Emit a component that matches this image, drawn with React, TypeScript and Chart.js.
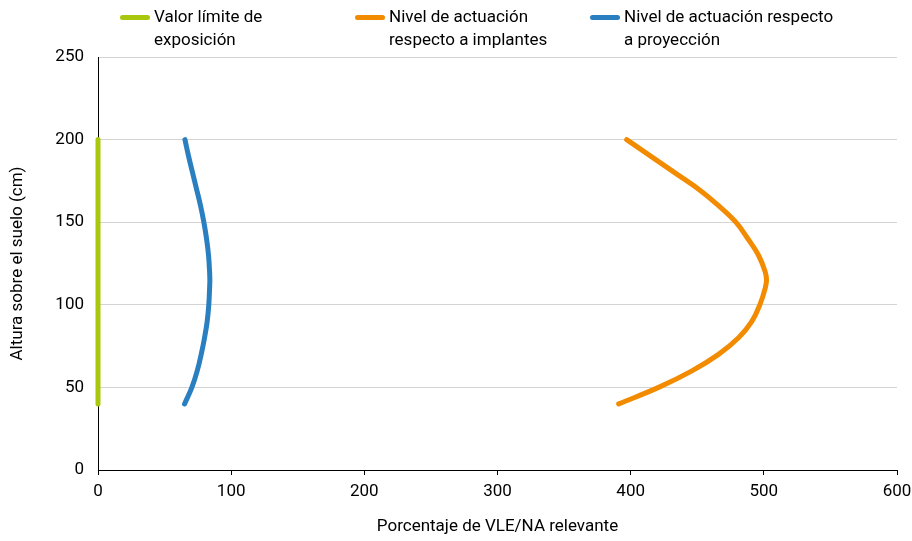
import React, { useEffect, useRef } from "react";
import { Chart, registerables } from "chart.js";

Chart.register(...registerables);

const seriesNames = [
  ["Valor límite de", "exposición"],
  ["Nivel de actuación", "respecto a implantes"],
  ["Nivel de actuación respecto", "a proyección"],
];
const seriesColors = ["#a9c70d", "#f28b00", "#2a7fc1"];

const limitHeights = [40, 200];
const limitValues = [0, 0];

const heights = [40, 50, 60, 70, 80, 90, 100, 110, 115, 120, 130, 140, 150, 160, 170, 180, 190, 200];
const implantValues = [391, 421, 446, 466, 481, 491, 497, 501, 502, 501, 496, 488, 479, 466, 451, 433, 415, 397];
const projectionValues = [65, 70.5, 74.5, 77.5, 80, 82, 83.2, 83.8, 84, 83.8, 83, 81.5, 79.5, 77, 74, 71, 68, 65.3];

const xTitle = "Porcentaje de VLE/NA relevante";
const yTitle = "Altura sobre el suelo (cm)";

const FONT = "Roboto, 'Noto Sans', sans-serif";

export default function App() {
  const ref = useRef<HTMLCanvasElement>(null);
  useEffect(() => {
    const ctx = ref.current!;
    const mk = (vals: number[], hs: number[]) => vals.map((v, i) => ({ x: v, y: hs[i] }));
    const chart = new Chart(ctx, {
      type: "scatter",
      data: {
        datasets: [
          { label: seriesNames[0].join(" "), data: mk(limitValues, limitHeights), borderColor: seriesColors[0], backgroundColor: seriesColors[0] },
          { label: seriesNames[1].join(" "), data: mk(implantValues, heights), borderColor: seriesColors[1], backgroundColor: seriesColors[1] },
          { label: seriesNames[2].join(" "), data: mk(projectionValues, heights), borderColor: seriesColors[2], backgroundColor: seriesColors[2] },
        ].map((d) => ({
          ...d,
          showLine: true,
          borderWidth: 5,
          pointRadius: 0,
          pointHoverRadius: 0,
          tension: 0.4,
          borderCapStyle: "round" as const,
          borderJoinStyle: "round" as const,
          clip: false as any,
        })),
      },
      options: {
        animation: false,
        responsive: false,
        maintainAspectRatio: false,
        layout: { padding: { top: 57, right: 0, left: 8, bottom: 4 } },
        plugins: { legend: { display: false }, tooltip: { enabled: false } },
        scales: {
          x: {
            type: "linear",
            min: 0,
            max: 600,
            ticks: { stepSize: 100, color: "#000", font: { family: FONT, size: 17 }, padding: 7 },
            grid: { drawOnChartArea: false, drawTicks: true, tickLength: 5, color: "#000" },
            border: { display: true, color: "#000", width: 1 },
            title: { display: true, text: xTitle, color: "#000", font: { family: FONT, size: 17 }, padding: { top: 12, bottom: 0 } },
            afterFit: (s: any) => { s.height = 67; s.paddingRight = 15; s.paddingLeft = 0; },
          },
          y: {
            type: "linear",
            min: 0,
            max: 250,
            ticks: { stepSize: 50, color: "#000", font: { family: FONT, size: 17 }, padding: 14 },
            grid: { drawTicks: false, color: "#d4d4d4", lineWidth: 1 },
            border: { display: true, color: "#000", width: 1 },
            title: { display: true, text: yTitle, color: "#000", font: { family: FONT, size: 17 }, padding: { top: 0, bottom: 8 } },
            afterFit: (s: any) => { s.width = 90; },
          },
        },
      },
    });
    return () => chart.destroy();
  }, []);

  const legendX = [120, 355, 590];
  return (
    <div style={{ position: "fixed", left: 0, top: 0, width: 912, height: 541, background: "#fff", fontFamily: FONT }}>
      <canvas ref={ref} width={912} height={541} style={{ position: "absolute", left: 0, top: 0 }} />
      {seriesNames.map((lines, i) => (
        <div key={i} style={{ position: "absolute", left: legendX[i], top: 5, display: "flex", alignItems: "flex-start" }}>
          <div style={{ width: 30, height: 5, borderRadius: 3, background: seriesColors[i], marginTop: 10, marginRight: 4 }} />
          <div style={{ fontSize: 17, lineHeight: "23px", color: "#000", whiteSpace: "nowrap" }}>
            {lines.map((l, j) => (<div key={j}>{l}</div>))}
          </div>
        </div>
      ))}
    </div>
  );
}
